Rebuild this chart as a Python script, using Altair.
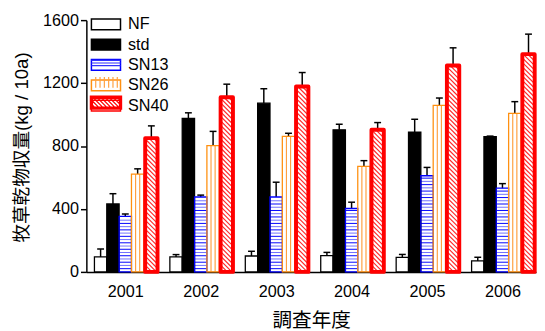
import altair as alt
import pandas as pd

# ---------------- data ----------------
years = ["2001", "2002", "2003", "2004", "2005", "2006"]
series = ["NF", "std", "SN13", "SN26", "SN40"]
nf = [95, 95, 101, 104, 93, 70]
nf_err = [50, 15, 30, 20, 18, 23]
std = [432, 976, 1072, 903, 889, 859]
std_err = [65, 35, 92, 35, 81, 4]
sn13 = [353, 476, 476, 403, 611, 532]
sn13_err = [15, 12, 94, 40, 53, 29]
sn26 = [622, 803, 861, 670, 1059, 1007]
sn26_err = [33, 90, 20, 37, 46, 75]
sn40 = [850, 1110, 1178, 903, 1312, 1384]
sn40_err = [78, 83, 89, 46, 112, 127]
y_ticks = [0, 400, 800, 1200, 1600]

values = {"NF": nf, "std": std, "SN13": sn13, "SN26": sn26, "SN40": sn40}
errors = {"NF": nf_err, "std": std_err, "SN13": sn13_err, "SN26": sn26_err, "SN40": sn40_err}

# ---------------- layout / style ----------------
W, H = 459, 257
XDOM = [-0.516, 5.445]
YDOM = [0, 1600]
PXX = W / (XDOM[1] - XDOM[0])
PXY = H / (YDOM[1] - YDOM[0])
SLOT_PX = [-25.2, -12.6, 0.0, 12.6, 26.6]
BAR_PX = 12.6

FONT = "Liberation Sans, Arial, sans-serif"
CJK = "Liberation Sans, 'Noto Sans CJK JP', sans-serif"

fills = ["white", "black", "transparent", "transparent", "transparent"]
strokes = ["black", "black", "#0000ff", "#ff9010", "#ff0000"]

# ---------------- tables built from the arrays ----------------
rows = []
for i, yr in enumerate(years):
    for k, s in enumerate(series):
        v = values[s][i]
        xc = i + SLOT_PX[k] / PXX
        rows.append({"year": yr, "series": s, "value": v, "top": v + errors[s][i],
                     "xc": xc, "x0": xc - BAR_PX / 2 / PXX, "x1": xc + BAR_PX / 2 / PXX,
                     "zero": 0})
bars = pd.DataFrame(rows)
bars["pat"] = ["p_" + s for s in bars.series]

# SN13 horizontal hatch
h_rows = []
STEP13 = 3.3 / PXY
for r in bars[bars.series == "SN13"].itertuples():
    n = 1
    while n * STEP13 < r.value - 0.8 / PXY:
        h_rows.append({"x0": r.x0, "x1": r.x1, "y": n * STEP13,
                       "shade": "dark" if n % 2 else "light"})
        n += 1
hatch_h = pd.DataFrame(h_rows)

# SN26 vertical hatch
v_rows = []
for r in bars[bars.series == "SN26"].itertuples():
    for f in (1 / 3, 2 / 3):
        v_rows.append({"x": r.x0 + f * (r.x1 - r.x0), "y": r.value, "zero": 0})
hatch_v = pd.DataFrame(v_rows)

# SN40 diagonal hatch
d_rows = []
SP40 = 4.6
for r in bars[bars.series == "SN40"].itertuples():
    hb = r.value * PXY
    c = SP40 / 2
    while c < hb + BAR_PX:
        u1 = max(0.0, c - hb)
        u2 = min(BAR_PX, c)
        if u2 > u1:
            d_rows.append({"xa": r.x0 + u1 / PXX, "ya": (c - u1) / PXY,
                           "xb": r.x0 + u2 / PXX, "yb": (c - u2) / PXY})
        c += SP40
hatch_d = pd.DataFrame(d_rows)

# ---------------- scales / axes ----------------
xscale = alt.Scale(domain=XDOM, nice=False, zero=False)
yscale = alt.Scale(domain=YDOM, nice=False)
label_expr = "[" + ",".join("'%s'" % y for y in years) + "][datum.value]"

x_axis = alt.Axis(title="調査年度", values=list(range(len(years))), labelExpr=label_expr,
                  ticks=False, grid=False, domainColor="black", domainWidth=1.5,
                  labelFont=FONT, labelFontSize=16.5, labelColor="black", labelPadding=12,
                  titleFont=CJK, titleFontSize=20, titleFontWeight="normal",
                  titleColor="black", titlePadding=11)
y_axis = alt.Axis(title="牧草乾物収量(kg / 10a)", values=y_ticks, format="d", grid=False,
                  tickSize=6, tickWidth=1.5, tickColor="black", domainColor="black",
                  domainWidth=1.5, labelFont=FONT, labelFontSize=16.5, labelColor="black",
                  labelPadding=2, titleFont=CJK, titleFontSize=19, titleFontWeight="normal",
                  titleColor="black", titleX=-66, titleY=H / 2 + 1, titleAlign="center",
                  titleBaseline="middle", titleAngle=270)


def X(f):
    return alt.X(f"{f}:Q", scale=xscale, axis=x_axis)


def Y(f):
    return alt.Y(f"{f}:Q", scale=yscale, axis=y_axis)


RECT = "M-2.7,-1H2.7V1H-2.7Z"
LEGX, LEGY = 11.75, -4
legend = alt.Legend(title=None, orient="none", legendX=LEGX, legendY=LEGY, symbolType=RECT,
                    symbolSize=121, labelFont=FONT, labelFontSize=16.5, labelColor="black",
                    labelOffset=14.25, rowPadding=2.75, symbolStrokeWidth=1.5)


# pattern paths for the legend symbols (drawn over the plain legend)
def diag_path():
    parts = []
    a = -4.7
    while a < 2.7:
        x1, y1, x2, y2 = a, -1.0, a + 2.0, 1.0
        if x1 < -2.7:
            y1 = y1 + (-2.7 - x1)
            x1 = -2.7
        if x2 > 2.7:
            y2 = y2 - (x2 - 2.7)
            x2 = 2.7
        if x2 > x1:
            parts.append("M%.2f,%.2fL%.2f,%.2f" % (x1, y1, x2, y2))
        a += 0.75
    return "".join(parts)


def thick_border():
    parts = []
    for d in (-0.2, -0.07, 0.07, 0.2):
        parts.append("M%.2f,%.2fH%.2fV%.2fH%.2fZ" % (-2.7 - d, -1 - d, 2.7 + d, 1 + d, -2.7 - d))
    return "".join(parts)


pats = ["p_" + s for s in series]
pat_paths = [RECT, RECT,
             "M-2.7,-0.5H2.7M-2.7,0H2.7M-2.7,0.5H2.7",
             "M-1.9,-1V1M-1.1,-1V1M-0.3,-1V1M0.5,-1V1M1.3,-1V1M2.1,-1V1",
             diag_path() + thick_border()]
pat_colors = ["transparent", "transparent", "#3030ff", "#ffa040", "#ff0000"]
plegend = alt.Legend(title=None, orient="none", legendX=LEGX, legendY=LEGY,
                     symbolSize=121, labelFont=FONT, labelFontSize=16.5, labelExpr="''",
                     labelOffset=14.25, rowPadding=2.75, symbolStrokeWidth=1.2)

# ---------------- layers ----------------
err_rule = alt.Chart(bars).mark_rule(color="black", strokeWidth=1.5).encode(
    x=X("xc"), y=Y("value"), y2=alt.Y2("top:Q"))
err_cap = alt.Chart(bars).mark_tick(orient="horizontal", size=7, thickness=1.5,
                                     color="black", opacity=1).encode(
    x=X("xc"), y=Y("top"))

base = alt.Chart(bars).mark_bar(strokeWidth=0).encode(
    x=X("x0"), x2=alt.X2("x1:Q"), y=Y("value"), y2=alt.Y2("zero:Q"),
    fill=alt.Fill("series:N", scale=alt.Scale(domain=series, range=fills), legend=legend))

h_dark = alt.Chart(hatch_h).transform_filter("datum.shade == 'dark'").mark_rule(
    color="#0000ff", strokeWidth=1).encode(x=X("x0"), x2=alt.X2("x1:Q"), y=Y("y"))
h_light = alt.Chart(hatch_h).transform_filter("datum.shade == 'light'").mark_rule(
    color="#7070ff", strokeWidth=1).encode(x=X("x0"), x2=alt.X2("x1:Q"), y=Y("y"))
v_lines = alt.Chart(hatch_v).mark_rule(color="#ffa040", strokeWidth=1.2).encode(
    x=X("x"), y=Y("y"), y2=alt.Y2("zero:Q"))
d_lines = alt.Chart(hatch_d).mark_rule(color="#ff2a2a", strokeWidth=1.2).encode(
    x=X("xa"), y=Y("ya"), x2=alt.X2("xb:Q"), y2=alt.Y2("yb:Q"))

stroke_enc = alt.Stroke("series:N", scale=alt.Scale(domain=series, range=strokes), legend=legend)
outline_thin = alt.Chart(bars).transform_filter("datum.series != 'SN40'").mark_bar(
    fillOpacity=0, strokeWidth=1.3).encode(
    x=X("x0"), x2=alt.X2("x1:Q"), y=Y("value"), y2=alt.Y2("zero:Q"), stroke=stroke_enc)
outline_thick = alt.Chart(bars).transform_filter("datum.series == 'SN40'").mark_bar(
    fillOpacity=0, strokeWidth=4, strokeJoin="round").encode(
    x=X("x0"), x2=alt.X2("x1:Q"), y=Y("value"), y2=alt.Y2("zero:Q"), stroke=stroke_enc)

pattern_legend = alt.Chart(bars).transform_filter("datum.value < 0").mark_point(
    filled=False, opacity=1).encode(
    x=X("xc"), y=Y("value"),
    shape=alt.Shape("pat:N", scale=alt.Scale(domain=pats, range=pat_paths), legend=plegend),
    color=alt.Color("pat:N", scale=alt.Scale(domain=pats, range=pat_colors), legend=plegend))

chart = alt.layer(err_rule, err_cap, base, h_dark, h_light, v_lines, d_lines,
                  outline_thin, outline_thick, pattern_legend).properties(
    width=W, height=H,
    padding={"left": 5, "top": 1, "right": 0, "bottom": 0},
    background="white",
).configure_view(stroke=None)

chart.save("out.html", embed_options={"renderer": "svg", "actions": False})
